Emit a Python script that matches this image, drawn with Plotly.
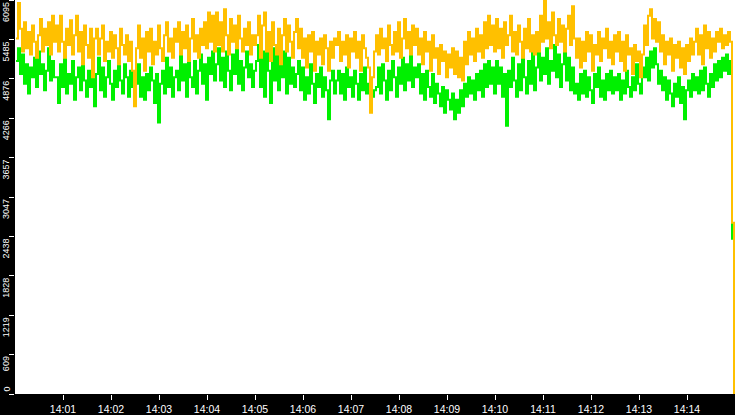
import plotly.graph_objects as go
import pandas as pd

# ---- data (values read by eye, one sample every 2.5 s) ----
start_time = "2024-01-01 14:00:01.25"
sample_seconds = 2.5

orange_values = [
    5500, 6050, 5650, 5300, 5750, 5350, 5600, 5250, 5700, 5450, 5200, 5550, 5800, 5300, 5650, 5400, 5750, 5250, 5850, 5450,
    5700, 5300, 5850, 5450, 5200, 5650, 5400, 5780, 5250, 5550, 5850, 5300, 5600, 5100, 5700, 5400, 5200, 5650, 4900, 5500,
    5650, 5250, 5500, 5700, 5150, 5450, 5300, 5600, 5200, 5550, 5350, 5100, 5650, 5400, 5250, 5550, 5150, 5450, 5000, 4450,
    5350, 5700, 5200, 5500, 5000, 5600, 5300, 5650, 5100, 5450, 5250, 5700, 5350, 5150, 5550, 5750, 5300, 5500, 5200, 5650,
    5450, 5750, 5250, 5600, 5350, 5700, 5150, 5500, 5800, 5300, 5550, 5200, 5650, 5400, 5750, 5350, 5900, 5450, 5850, 5300,
    5900, 5400, 5750, 5300, 5950, 5550, 5250, 5800, 5450, 5700, 5350, 5850, 5500, 5300, 5650, 5400, 5750, 5250, 5550, 5400,
    5550, 5850, 5200, 5700, 5900, 5300, 5600, 5150, 5750, 5400, 5250, 5650, 5100, 5550, 5800, 5300, 5700, 5450, 5200, 5600,
    5800, 5350, 5650, 5200, 5500, 5050, 5550, 5300, 5600, 5000, 5450, 5250, 5500, 5100, 5550, 5350, 5000, 5450, 5200, 5500,
    5400, 5600, 5150, 5450, 5250, 5550, 5050, 5500, 5300, 5600, 5200, 5450, 5000, 5550, 5350, 5200, 5050, 4350, 4900, 5300,
    5550, 5250, 5650, 5350, 5500, 5150, 5700, 5400, 5250, 5600, 5300, 5750, 5200, 5500, 5800, 5350, 5600, 5250, 5700, 5400,
    5650, 5250, 5500, 5100, 5600, 5300, 5450, 5000, 5550, 5200, 5350, 4950, 5400, 5150, 5300, 4900, 5250, 5050, 5350, 4950,
    5300, 4900, 5200, 4850, 5450, 5100, 5600, 5250, 5500, 5150, 5650, 5300, 5550, 5200, 5750, 5350, 5850, 5400, 5700, 5300,
    5800, 5350, 5650, 5200, 5750, 5400, 5550, 5850, 5300, 5600, 5250, 5700, 5450, 5200, 5650, 5350, 5800, 5300, 5550, 5250,
    5600, 5300, 5850, 5450, 6080, 5500, 5750, 5350, 5900, 5550, 5400, 5800, 5450, 5700, 5300, 5650, 5850, 5400, 6000, 5500,
    5200, 5500, 5050, 5450, 5150, 5600, 5300, 5550, 5000, 5400, 5250, 5600, 5150, 5500, 5350, 5650, 5200, 5450, 5100, 5550,
    5300, 5600, 5150, 5450, 5000, 5550, 5250, 5350, 4950, 5400, 5150, 5300, 4900, 5250, 5700, 5400, 5850, 5950, 5500, 5800,
    5450, 5750, 5300, 5550, 5100, 5450, 5250, 5500, 5000, 5400, 5200, 5450, 5050, 5350, 4950, 5400, 5150, 5500, 5250, 5450,
    5650, 5250, 5550, 5100, 5700, 5350, 5600, 5200, 5500, 5300, 5600, 5450, 5650, 5350, 5550, 5400, 5600, 5450, 2650, 0,
]

green_values = [
    5150, 5350, 4950, 5250, 4800, 5100, 4650, 5050, 4900, 5200, 4750, 5300, 4950, 5100, 4700, 5000, 5350, 4850, 5150, 4900,
    4900, 4500, 5100, 4750, 5200, 4650, 4950, 4800, 5150, 4550, 4900, 5050, 4700, 5250, 4850, 4600, 5000, 4750, 5150, 4450,
    4950, 5200, 4700, 5050, 4600, 4900, 5150, 4800, 4550, 5000, 4750, 5250, 4850, 4650, 5100, 4900, 4600, 5000, 4750, 4550,
    4800, 5100, 4600, 4900, 4550, 4950, 4700, 5050, 4850, 4500, 4950, 4200, 4800, 5000, 4650, 5200, 4750, 5050, 4600, 4900,
    5000, 4700, 5250, 4850, 5100, 4600, 5300, 4900, 4750, 5150, 4650, 5000, 5250, 4800, 5100, 4550, 5200, 4950, 5300, 4850,
    5100, 5350, 4850, 5200, 4750, 5300, 5000, 4700, 5250, 4950, 5350, 4800, 5150, 4700, 5050, 5300, 4900, 5100, 4750, 5000,
    5150, 5400, 4750, 5300, 4600, 5450, 5000, 4500, 5350, 4850, 5250, 4700, 5100, 4900, 5300, 4650, 5200, 4800, 5050, 4750,
    4950, 5150, 4700, 5050, 4550, 4900, 4650, 5100, 4800, 4500, 4950, 4750, 5050, 4600, 4900, 4700, 4250, 4850, 5000, 4650,
    4850, 5000, 4650, 4950, 4550, 5050, 4750, 4900, 4600, 5000, 4800, 4550, 4950, 4700, 5050, 4650, 4800, 4500, 4600, 4700,
    4750, 5050, 4650, 5100, 4850, 4550, 5000, 4700, 5150, 4900, 4600, 5050, 4800, 5200, 4700, 5100, 4850, 5250, 4750, 5050,
    4900, 5100, 4650, 4950, 4550, 5000, 4750, 4600, 4950, 4500, 4800, 4650, 4450, 4750, 4350, 4700, 4550, 4400, 4650, 4250,
    4550, 4350, 4700, 4450, 4800, 4600, 4900, 4650, 4850, 4550, 4950, 4700, 5000, 4600, 5100, 4750, 5150, 4800, 5050, 4650,
    5150, 4800, 5050, 4600, 4950, 4150, 5000, 4750, 5200, 4850, 4600, 5100, 4700, 5250, 4900, 4650, 5150, 4800, 5300, 4700,
    5050, 5300, 4850, 5200, 4950, 5350, 4800, 5150, 5000, 5400, 4900, 5250, 4750, 5100, 5300, 4850, 5200, 4700, 5050, 4650,
    4800, 4550, 4950, 4650, 5000, 4600, 4900, 4700, 4500, 4950, 4750, 5050, 4600, 4850, 4550, 4950, 4700, 5000, 4650, 4900,
    4700, 4950, 4550, 4850, 4650, 5000, 4750, 4600, 4900, 4700, 5100, 4800, 4650, 5050, 4900, 5200, 4850, 5300, 5050, 5350,
    5100, 4800, 5000, 4700, 4900, 4550, 4850, 4650, 4450, 4800, 4600, 4900, 4500, 4750, 4250, 4700, 4850, 4600, 4950, 4700,
    4900, 4650, 5000, 4700, 5050, 4800, 4600, 4950, 4750, 5100, 4850, 5150, 4900, 5200, 5000, 5250, 4950, 5150, 2400, 0,
]

y_tick_values = [0, 609, 1219, 1828, 2438, 3047, 3657, 4266, 4876, 5485, 6095]
y_tick_labels = ["0", "609", "1219", "1828", "2438", "3047", "3657", "4266", "4876", "5485", "6095"]
x_tick_labels = ["14:01", "14:02", "14:03", "14:04", "14:05", "14:06", "14:07",
                 "14:08", "14:09", "14:10", "14:11", "14:12", "14:13", "14:14"]

# ---- figure ----
day = "2024-01-01 "
t_first = pd.Timestamp(start_time)
times = [t_first + pd.Timedelta(seconds=sample_seconds * i) for i in range(len(orange_values))]
x_tick_vals = [pd.Timestamp(day + lab + ":00") for lab in x_tick_labels]
x_start = pd.Timestamp(day + "14:00:00")
x_end = pd.Timestamp(day + "14:15:00")

fig = go.Figure()
fig.add_trace(go.Scatter(x=times, y=green_values, mode="lines",
                         line=dict(color="#00F000", width=2, shape="hv"),
                         hoverinfo="skip", showlegend=False))
fig.add_trace(go.Scatter(x=times, y=orange_values, mode="lines",
                         line=dict(color="#FFC000", width=2, shape="hv"),
                         hoverinfo="skip", showlegend=False))

label_font = dict(family="Liberation Sans", size=9, color="white")
annotations = []
for v, lab in zip(y_tick_values, y_tick_labels):
    if v == 0:
        annotations.append(dict(x=0, xref="paper", y=v, yref="y", text=lab, showarrow=False,
                                textangle=-90, xanchor="center", yanchor="bottom",
                                xshift=-9, yshift=1, font=label_font, borderpad=0))
    else:
        annotations.append(dict(x=0, xref="paper", y=v, yref="y", text=lab, showarrow=False,
                                textangle=-90, xanchor="center", yanchor="top",
                                xshift=-9, yshift=-1, font=label_font, borderpad=0))

fig.update_layout(
    width=735, height=415,
    margin=dict(l=15, r=0, t=0, b=17, pad=0),
    paper_bgcolor="black",
    plot_bgcolor="white",
    annotations=annotations,
    xaxis=dict(
        range=[x_start, x_end],
        tickvals=x_tick_vals, ticktext=x_tick_labels,
        ticks="outside", ticklen=5, tickwidth=1, tickcolor="white",
        tickfont=dict(family="Liberation Sans", size=10.5, color="white"),
        showgrid=False, zeroline=False, showline=False, fixedrange=True,
    ),
    yaxis=dict(
        range=[0, 6095],
        tickvals=y_tick_values, showticklabels=False,
        ticks="outside", ticklen=5, tickwidth=1, tickcolor="white",
        showgrid=False, zeroline=False, showline=False, fixedrange=True,
    ),
)

fig.write_html(
    "out.html",
    config={"displayModeBar": False, "staticPlot": True},
    post_script="document.body.style.margin='0';document.body.style.overflow='hidden';",
)
